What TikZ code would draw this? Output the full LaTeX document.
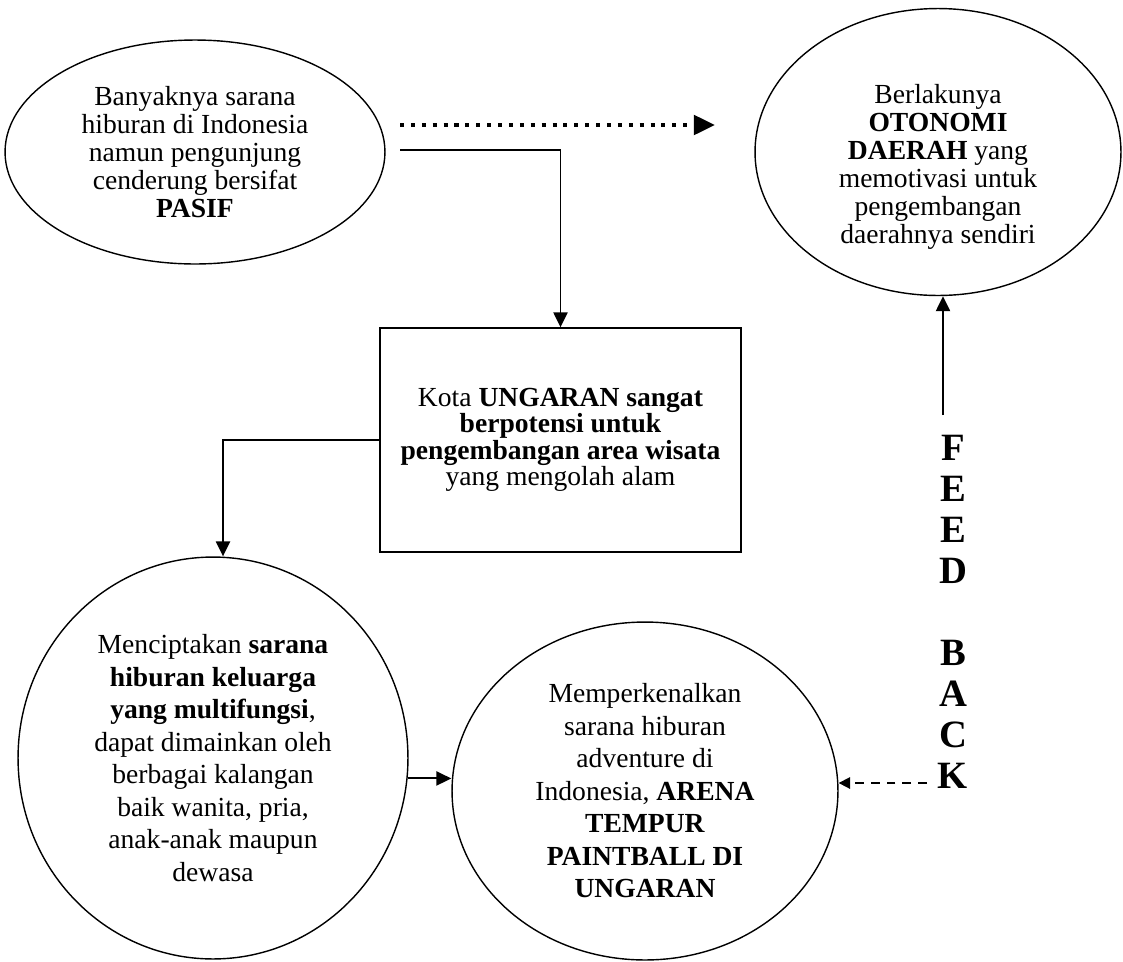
\documentclass[tikz,border=0pt]{standalone}
\usepackage{fontspec}
\setmainfont{Liberation Serif}
\usetikzlibrary{arrows.meta,calc,shapes.geometric}
\tikzset{
    bubble/.style = {
        draw,
        ellipse,
        line width=0.8pt,
        inner sep=0pt,
        align=center,
        font=\fontsize{15.7}{16}\selectfont,
        },
    loose/.style = {
        font=\fontsize{15.7}{18.5}\selectfont,
        },
    box/.style = {
        draw,
        rectangle,
        line width=0.8pt,
        inner sep=0pt,
        align=center,
        font=\fontsize{15.7}{15}\selectfont,
        },
    flow/.style = {
        line width=1.1pt,
        -{Triangle[length=8.5pt,width=8pt]},
        },
    dotflow/.style = {
        line width=2.3pt,
        dash pattern=on 2.3pt off 3.9pt,
        -{Triangle[length=12pt,width=11pt]},
        },
    dashflow/.style = {
        line width=1pt,
        dash pattern=on 5pt off 4pt,
        -{Triangle[length=6.5pt,width=6.5pt]},
        },
    feedback/.style = {
        align=center,
        inner sep=0pt,
        font=\fontsize{22}{23.3}\selectfont\bfseries,
        },
}
\begin{document}
\begin{tikzpicture}[x=0.02cm, y=-0.02cm]
            \useasboundingbox (0,0) rectangle (1123,961);

            \node[bubble, minimum width=7.6cm, minimum height=4.48cm] (pasif) at (195,152)
                {Banyaknya sarana\\hiburan di Indonesia\\namun pengunjung\\cenderung bersifat\\\textbf{PASIF}};
            \node[bubble, minimum width=7.32cm, minimum height=5.74cm] (otonomi) at (938,152) {};
            \node[align=center, font=\fontsize{15.7}{16}\selectfont] (otonomi text) at (938,167)
                {Berlakunya\\\textbf{OTONOMI}\\\textbf{DAERAH} yang\\memotivasi untuk\\pengembangan\\daerahnya sendiri};
            \node[box, minimum width=7.22cm, minimum height=4.48cm] (kota) at (560.5,440)
                {Kota \textbf{UNGARAN sangat}\\\textbf{berpotensi untuk}\\\textbf{pengembangan area wisata}\\yang mengolah alam};
            \node[bubble, loose, minimum width=7.8cm, minimum height=8.04cm] (sarana) at (213,758)
                {Menciptakan \textbf{sarana}\\\textbf{hiburan keluarga}\\\textbf{yang multifungsi},\\dapat dimainkan oleh\\berbagai kalangan\\baik wanita, pria,\\anak-anak maupun\\dewasa};
            \node[bubble, loose, minimum width=7.72cm, minimum height=6.76cm] (arena) at (645,791)
                {Memperkenalkan\\sarana hiburan\\adventure di\\Indonesia, \textbf{ARENA}\\\textbf{TEMPUR}\\\textbf{PAINTBALL DI}\\\textbf{UNGARAN}};
            \node[feedback] (fb) at (953,612) {F\\E\\E\\D\\\strut\\B\\A\\C\\K};

            \coordinate (dot start) at (400,125);
            \coordinate (dot end) at (715,125);
            \coordinate (split) at (400,150);
            \coordinate (fb top) at (943,415);
            \coordinate (fb end) at (927,783);

            \draw[dotflow] (dot start) -- (dot end);
            \draw[flow] (split) -| (kota.north);
            \draw[flow] (kota.west) -| ($(sarana.north)+(10,0)$);
            \draw[flow] (sarana.-6) -- (sarana.-6 -| arena.west);
            \draw[flow] (fb top) -- (fb top |- otonomi.south);
            \draw[dashflow] (fb end) -- (fb end -| arena.east);
        \end{tikzpicture}
\end{document}
